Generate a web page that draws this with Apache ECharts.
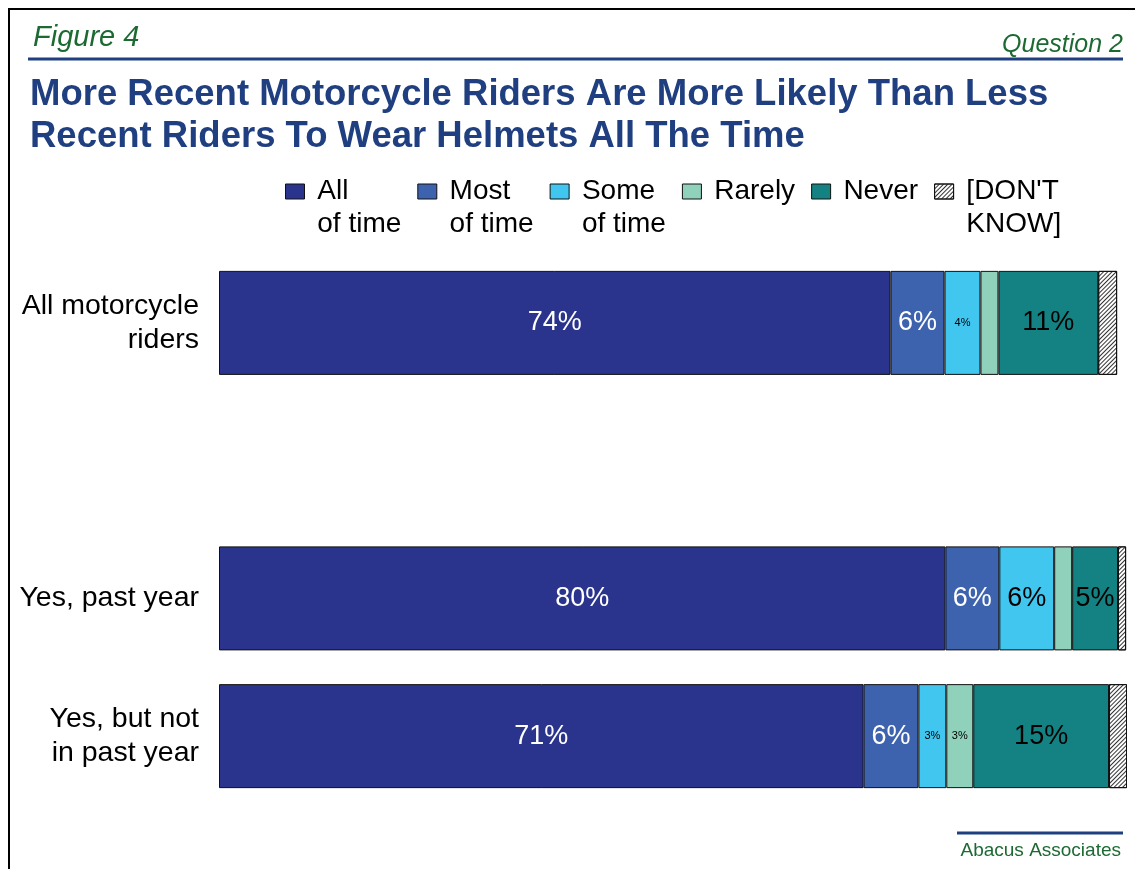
<!DOCTYPE html>
<html>
<head>
<meta charset="utf-8">
<script src="https://cdn.jsdelivr.net/npm/echarts@6/dist/echarts.min.js"></script>
<style>
  html, body { margin: 0; padding: 0; background: #fff; }
  #chart { width: 1135px; height: 869px; }
</style>
</head>
<body>
<div id="chart"></div>
<script>
// Categories (second slot is the empty gap between the groups)
const categories = ['All motorcycle\nriders', '', 'Yes, past year', 'Yes, but not\nin past year'];

// Series names and legend texts (leading blank line keeps the icon level with the first line)
const seriesNames = ['All of time', 'Most of time', 'Some of time', 'Rarely', 'Never', "[DON'T KNOW]"];
const legendTexts = [' \n All\n of time', ' \n Most\n of time', ' \n Some\n of time', ' \n Rarely\n ', ' \n Never\n ', " \n [DON'T\n KNOW]"];

// Values (percent), one per category
const allOfTime = [74.7, '-', 80.8, 71.7];
const mostOfTime = [6.0, '-', 6.0, 6.1];
const someOfTime = [4.0, '-', 6.1, 3.1];
const rarely = [2.0, '-', 2.0, 3.0];
const never = [11.1, '-', 5.1, 15.1];
const dontKnow = [2.1, '-', 0.9, 2.0];

// Printed labels ('' = none)
const allLabels = ['74%', '', '80%', '71%'];
const mostLabels = ['6%', '', '6%', '6%'];
const someLabels = ['4%', '', '6%', '3%'];
const rarelyLabels = ['', '', '', '3%'];
const neverLabels = ['11%', '', '5%', '15%'];
const dkLabels = ['', '', '', ''];

const seriesValues = [allOfTime, mostOfTime, someOfTime, rarely, never, dontKnow];
const seriesLabels = [allLabels, mostLabels, someLabels, rarelyLabels, neverLabels, dkLabels];
const colors = ['#2a348c', '#3d62ae', '#40c6ef', '#8fd1bb', '#148282', '#ffffff'];
const labelColors = ['#fff', '#fff', '#000', '#000', '#000', '#000'];

const navy = '#1f3f80';
const green = '#1c6a32';
const font = '"Liberation Sans", Arial, sans-serif';

const chart = echarts.init(document.getElementById('chart'), null, { renderer: 'canvas' });

const series = seriesNames.map((name, si) => ({
    name,
    type: 'bar',
    stack: 'total',
    barWidth: 104,
    itemStyle: Object.assign(
        { color: colors[si], borderColor: '#111', borderWidth: 1 },
        si === 5 ? {
            decal: {
                symbol: 'rect',
                dashArrayX: [1, 0],
                dashArrayY: [1, 2],
                rotation: -Math.PI / 4,
                color: '#333'
            }
        } : {}
    ),
    data: seriesValues[si].map((v, ci) => {
        const txt = seriesLabels[si][ci];
        return {
            value: v,
            label: {
                show: txt !== '',
                formatter: txt,
                fontSize: v < 5 ? 11 : 27,
                color: labelColors[si],
                fontFamily: font
            }
        };
    })
}));

const option = {
    animation: false,
    color: colors,
    title: {
        text: 'More Recent Motorcycle Riders Are More Likely Than Less\nRecent Riders To Wear Helmets All The Time',
        left: 25,
        top: 69,
        textStyle: { fontSize: 36.5, fontWeight: 'bold', color: navy, lineHeight: 42, fontFamily: font }
    },
    legend: {
        data: seriesNames,
        left: 280,
        top: 137,
        icon: 'rect',
        itemWidth: 19,
        itemHeight: 15,
        itemGap: 16,
        selectedMode: false,
        formatter: (name) => legendTexts[seriesNames.indexOf(name)],
        itemStyle: { borderColor: '#111', borderWidth: 1 },
        textStyle: { fontSize: 28, lineHeight: 33, color: '#000', fontFamily: font }
    },
    grid: { left: 219, top: 254, width: 908, height: 551 },
    xAxis: { type: 'value', min: 0, max: 101, show: false },
    yAxis: {
        type: 'category',
        data: categories,
        inverse: true,
        axisLine: { show: false },
        axisTick: { show: false },
        splitLine: { show: false },
        axisLabel: { fontSize: 28.5, lineHeight: 34, color: '#000', margin: 20, fontFamily: font }
    },
    graphic: [
        { type: 'line', shape: { x1: 8, y1: 9, x2: 1135, y2: 9 }, style: { stroke: '#000', lineWidth: 2 } },
        { type: 'line', shape: { x1: 9, y1: 8, x2: 9, y2: 869 }, style: { stroke: '#000', lineWidth: 2 } },
        { type: 'line', shape: { x1: 28, y1: 59, x2: 1123, y2: 59 }, style: { stroke: navy, lineWidth: 3 } },
        { type: 'text', left: 33, top: 23, style: { text: 'Figure 4', font: 'italic 29px ' + font, fill: green } },
        { type: 'text', right: 12, top: 33, style: { text: 'Question 2', font: 'italic 25px ' + font, fill: green } },
        { type: 'line', shape: { x1: 957, y1: 833, x2: 1123, y2: 833 }, style: { stroke: navy, lineWidth: 3 } },
        { type: 'text', right: 14, top: 841, style: { text: 'Abacus Associates', font: '19px ' + font, fill: green } }
    ],
    series
};

chart.setOption(option);
</script>
</body>
</html>
